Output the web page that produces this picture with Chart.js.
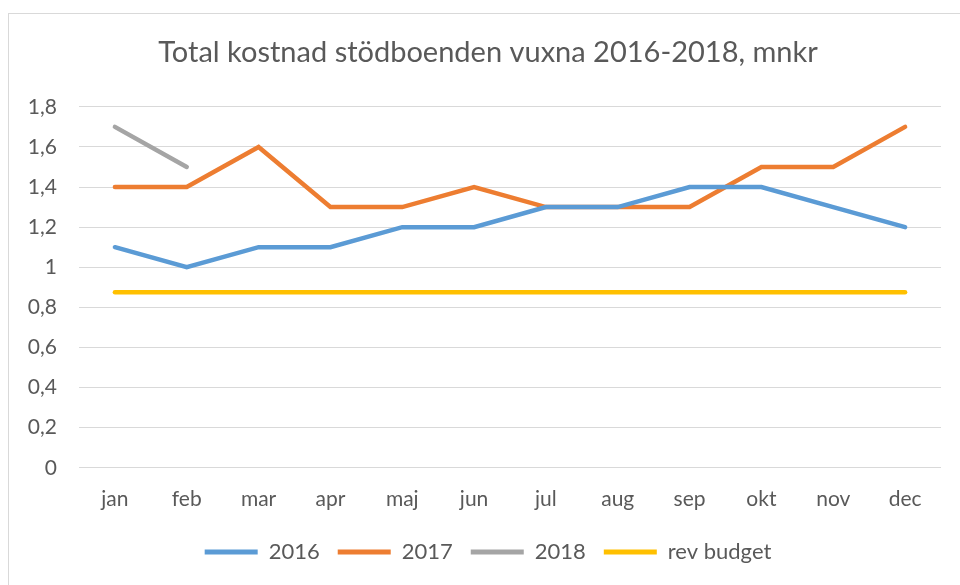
<!DOCTYPE html>
<html>
<head>
<meta charset="utf-8">
<script src="https://cdn.jsdelivr.net/npm/chart.js@4.4.0/dist/chart.umd.min.js"></script>
<style>
  html, body { margin: 0; padding: 0; background: #ffffff; }
  #wrap { position: relative; width: 960px; height: 585px; overflow: hidden; }
  #frame { position: absolute; left: 8px; top: 13px; width: 1000px; height: 700px; border: 1px solid #d9d9d9; }
  #c { position: absolute; left: 0; top: 0; }
</style>
</head>
<body>
<div id="wrap">
  <div id="frame"></div>
  <canvas id="c" width="960" height="585"></canvas>
</div>
<script>
// months on the x axis
var months = ["jan", "feb", "mar", "apr", "maj", "jun", "jul", "aug", "sep", "okt", "nov", "dec"];

// cost per month, mnkr
var cost2016 = [1.1, 1.0, 1.1, 1.1, 1.2, 1.2, 1.3, 1.3, 1.4, 1.4, 1.3, 1.2];
var cost2017 = [1.4, 1.4, 1.6, 1.3, 1.3, 1.4, 1.3, 1.3, 1.3, 1.5, 1.5, 1.7];
var cost2018 = [1.7, 1.5];
var revBudget = [0.875, 0.875, 0.875, 0.875, 0.875, 0.875, 0.875, 0.875, 0.875, 0.875, 0.875, 0.875];

var textColor = "#595959";
var fontName = "Lato, 'Open Sans', sans-serif";

function lineSet(label, data, color) {
    return {
        label: label,
        data: data,
        borderColor: color,
        backgroundColor: color,
        borderWidth: 4.5,
        borderCapStyle: "round",
        borderJoinStyle: "miter",
        pointRadius: 0,
        pointHoverRadius: 0,
        tension: 0,
        fill: false
    };
}

// title and legend sit centred on the frame, a bit right of the canvas centre
var shiftBlocks = {
    id: "shiftBlocks",
    afterLayout: function (chart) {
        chart.titleBlock.left = 35;
        chart.legend.left = 35;
    }
};

var ctx = document.getElementById("c").getContext("2d");
var chart = new Chart(ctx, {
    type: "line",
    data: {
        labels: months,
        datasets: [
            lineSet("2016", cost2016, "#5B9BD5"),
            lineSet("2017", cost2017, "#ED7D31"),
            lineSet("2018", cost2018, "#A5A5A5"),
            lineSet("rev budget", revBudget, "#FFC000")
        ]
    },
    plugins: [shiftBlocks],
    options: {
        responsive: false,
        animation: false,
        layout: {
            padding: { left: 0, right: 19, top: 31, bottom: 12 }
        },
        plugins: {
            title: {
                display: true,
                text: "Total kostnad stödboenden vuxna 2016-2018, mnkr",
                color: textColor,
                font: { family: fontName, size: 29, weight: "normal" },
                padding: { top: 4, bottom: 37 }
            },
            legend: {
                position: "bottom",
                labels: {
                    color: textColor,
                    font: { family: fontName, size: 22 },
                    boxWidth: 53,
                    boxHeight: 5,
                    padding: 18,
                    generateLabels: function (chart) {
                        var items = Chart.defaults.plugins.legend.labels.generateLabels(chart);
                        items.forEach(function (it) {
                            it.fillStyle = it.strokeStyle;
                            it.lineWidth = 0;
                        });
                        return items;
                    }
                }
            },
            tooltip: { enabled: false }
        },
        scales: {
            x: {
                offset: true,
                grid: { display: false },
                border: { display: false },
                ticks: {
                    color: textColor,
                    font: { family: fontName, size: 21 },
                    padding: 11
                }
            },
            y: {
                min: 0,
                max: 1.8,
                afterFit: function (scale) { scale.width = 79; },
                grid: { color: "#d9d9d9", lineWidth: 1, drawTicks: false },
                border: { display: false },
                ticks: {
                    stepSize: 0.2,
                    color: textColor,
                    font: { family: fontName, size: 21 },
                    padding: 22,
                    callback: function (v) {
                        return (Math.round(v * 10) / 10).toString().replace(".", ",");
                    }
                }
            }
        }
    }
});
</script>
</body>
</html>
